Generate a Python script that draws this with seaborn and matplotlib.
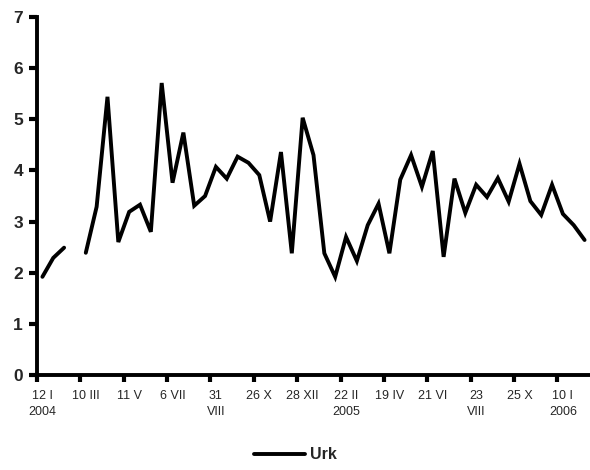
import numpy as np
import pandas as pd
import seaborn as sns
import matplotlib.pyplot as plt

# sample values (one per sampling date, NaN = no sample)
urk = [1.92, 2.29, 2.49, np.nan, 2.39, 3.29, 5.44, 2.60, 3.19, 3.33,
       2.80, 5.71, 3.76, 4.74, 3.31, 3.50, 4.07, 3.84, 4.27, 4.15,
       3.91, 3.00, 4.36, 2.38, 5.03, 4.30, 2.38, 1.92, 2.70, 2.23,
       2.93, 3.35, 2.38, 3.82, 4.30, 3.68, 4.38, 2.31, 3.84, 3.17,
       3.72, 3.48, 3.85, 3.39, 4.13, 3.40, 3.13, 3.72, 3.15, 2.93,
       2.64]

# every 4th sample gets a date label
tick_labels = ["12 I\n2004", "10 III", "11 V", "6 VII", "31\nVIII", "26 X",
               "28 XII", "22 II\n2005", "19 IV", "21 VI", "23\nVIII", "25 X",
               "10 I\n2006"]

df = pd.DataFrame({"idx": np.arange(len(urk)), "val": urk})
# split into segments at gaps so the line breaks there
df["seg"] = df["val"].isna().cumsum()
df = df.dropna()

sns.set_style("white")
plt.rcParams["font.family"] = ["Liberation Sans", "DejaVu Sans"]

fig = plt.figure(figsize=(5.9, 4.7), dpi=100)
ax = fig.add_axes([0.0627, 0.2021, 0.9373, 0.7617])

sns.lineplot(data=df, x="idx", y="val", units="seg", estimator=None,
             color="black", linewidth=2.8, ax=ax, legend=False)
for ln in ax.lines:
    ln.set_solid_capstyle("round")
    ln.set_solid_joinstyle("miter")

ax.set_xlim(-0.5, len(urk) - 0.5)
ax.set_ylim(0, 7)
ax.set_xlabel("")
ax.set_ylabel("")

# ticks between categories, labels centred on categories
ax.set_xticks(np.arange(-0.5, len(urk) - 1, 4))
ax.set_xticklabels([])
ax.set_xticks(np.arange(0, len(urk), 4), minor=True)
ax.set_xticklabels(tick_labels, minor=True, fontsize=9, linespacing=1.45,
                   va="top")
ax.tick_params(axis="x", which="minor", bottom=False, length=0, pad=11)
ax.tick_params(axis="x", which="major", bottom=True, length=5, width=3,
               color="black", direction="out")

ax.set_yticks(range(0, 8))
ax.set_yticklabels([str(v) for v in range(0, 8)], fontsize=12.5,
                   fontweight="bold")
ax.tick_params(axis="y", left=True, length=6, width=3, color="black",
               direction="out", pad=4)

sns.despine(ax=ax)
for s in ["left", "bottom"]:
    ax.spines[s].set_linewidth(2.8)
    ax.spines[s].set_color("black")

fig.legend(handles=[ax.lines[0]], labels=["Urk"], loc="center",
           bbox_to_anchor=(0.5, 0.032), frameon=False, handlelength=3.2,
           handletextpad=0.3, prop={"weight": "bold", "size": 11.5})

fig.savefig("out.png", dpi=100)
